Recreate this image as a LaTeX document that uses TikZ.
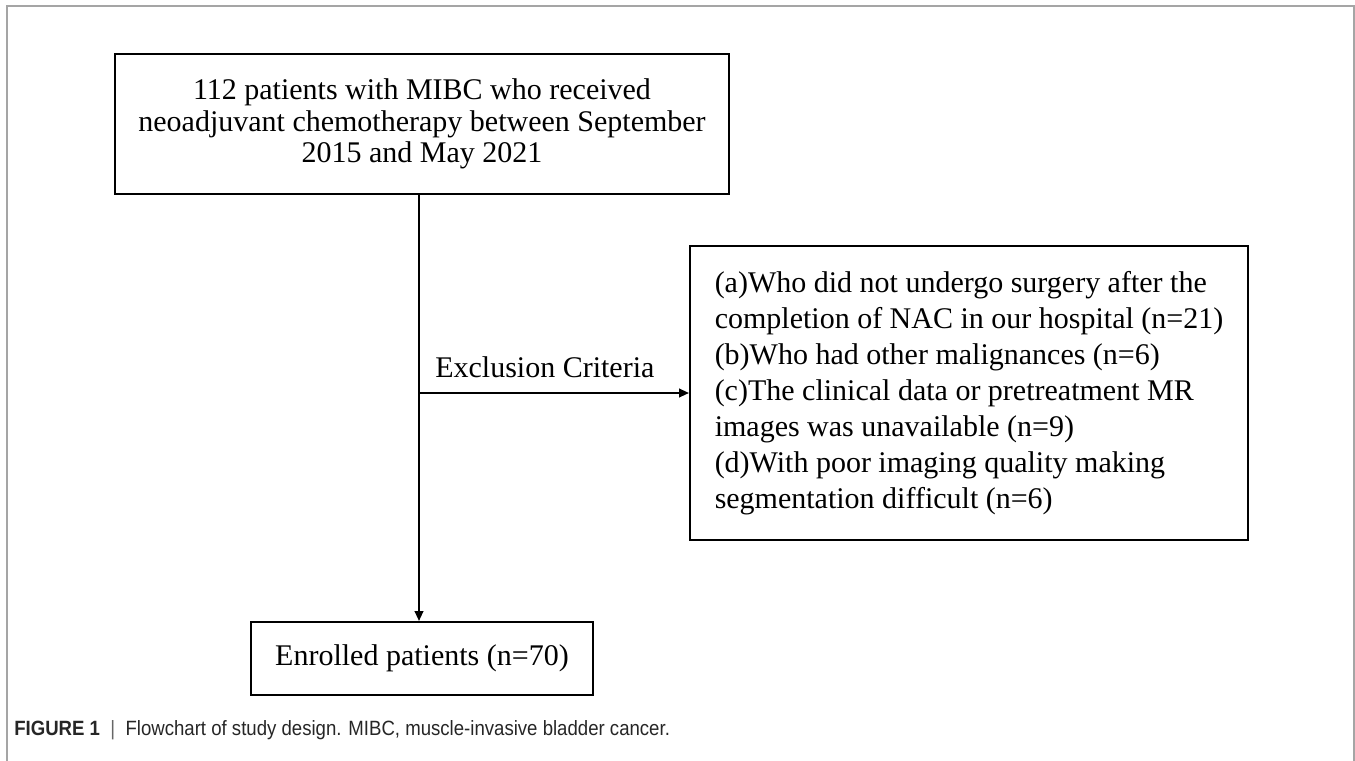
\documentclass[tikz,border=0pt]{standalone}
\usepackage{xcolor}
\usepackage{fontspec}
\setmainfont{Liberation Serif}
\newfontfamily\capfont[FakeStretch=0.9]{Liberation Sans}
\usepackage{tikz}
\usetikzlibrary{arrows.meta,positioning}
\definecolor{framegray}{RGB}{165,165,165}

\begin{document}
\begin{tikzpicture}[
  x=0.75pt, y=-0.75pt,
  every node/.style={font=\fontsize{22.5}{23.6}\selectfont},
  flowbox/.style={draw=black, line width=1.5pt, inner sep=0pt, align=center},
  listbox/.style={draw=black, line width=1.5pt, inner sep=0pt, align=left,
                  font=\fontsize{22.5}{27}\selectfont},
  flowline/.style={draw=black, line width=1.5pt},
  flowarrow/.style={flowline, -{Triangle[length=7.5pt, width=6.5pt]}},
]

%% page frame (open at the bottom)
\useasboundingbox (0,0) rectangle (1355,760);
\draw[framegray, line width=1.1pt] (7,762) -- (7,6) -- (1354,6) -- (1354,762);

%% Boxes
\node[flowbox, minimum width=460.5pt, minimum height=105pt] (cohort)
  at (422,124) {112 patients with MIBC who received\\
                neoadjuvant chemotherapy between September\\
                2015 and May 2021};
\node[listbox, minimum width=418.5pt, minimum height=220.5pt] (excluded)
  at (969,393) {(a)Who did not undergo surgery after the\\
                completion of NAC in our hospital (n=21)\\
                (b)Who had other malignances (n=6)\\
                (c)The clinical data or pretreatment MR\\
                images was unavailable (n=9)\\
                (d)With poor imaging quality making\\
                segmentation difficult (n=6)};
\node[flowbox, minimum width=256.5pt, minimum height=54.75pt] (enrolled)
  at (422,658.5) {Enrolled patients (n=70)};

%% Connectors
\coordinate (split) at (419,393);
\draw[flowarrow] (split |- cohort.south) -- (split |- enrolled.north);
\draw[flowarrow] (split) -- (excluded.west);
\node[anchor=base west, inner sep=0pt] (exlabel) at (435,377) {Exclusion Criteria};

%% Caption
\node[anchor=base west, inner sep=0pt, text=black!85,
      font=\capfont\fontsize{15.5}{17}\selectfont] (caption) at (14,735)
  {\textbf{FIGURE 1}\enspace{\color{black!60}|}\enspace Flowchart of study design. MIBC, muscle-invasive bladder cancer.};

\end{tikzpicture}
\end{document}
